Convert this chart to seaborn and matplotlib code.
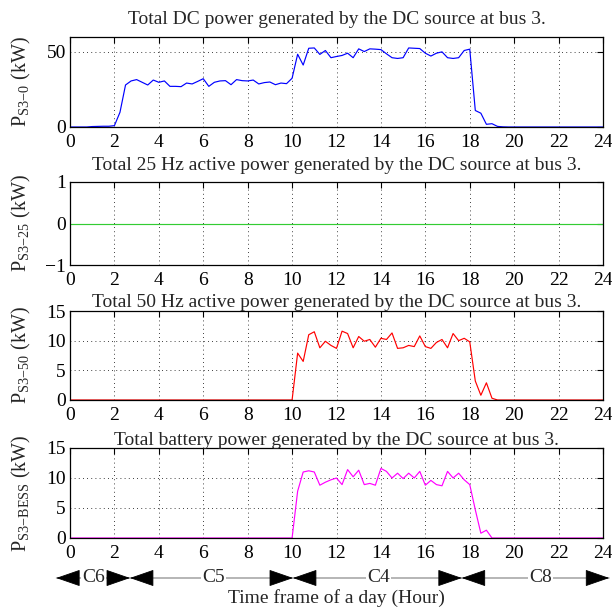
import numpy as np
import pandas as pd
import matplotlib
matplotlib.use("Agg")
import matplotlib.pyplot as plt
import seaborn as sns

# ---------------- data (15-minute resolution, hours 0..24) ----------------
hours = np.arange(0, 24.001, 0.25)

p_dc = ([0.0, 0.0, 0.0, 0.0, 0.3, 0.4, 0.5, 0.5] +
        [0.9, 9.8, 28.0, 30.7, 31.6, 29.8, 28.0, 31.3, 29.8, 30.7, 27.1, 27.1,
         26.9, 29.3, 28.7, 30.4, 32.2, 27.1, 29.8, 30.7, 30.9, 28.2, 31.6, 30.9,
         30.7, 31.3, 28.7, 29.6, 30.0, 28.2, 29.3, 28.9, 32.5, 48.5, 41.3, 52.5,
         52.7, 48.4, 51.0, 46.2, 47.0, 47.7, 49.2, 46.2, 52.1, 50.3, 52.1, 51.9,
         51.6, 48.8, 46.2, 45.7, 46.2, 52.7, 52.5, 52.3, 49.2, 47.3, 49.2, 50.1,
         46.2, 45.7, 46.2, 51.0, 51.9, 11.0, 9.2, 1.8, 2.2, 0.4, 0.1] +
        [0.0] * 18)

p_25 = [0.0] * 97

p_50 = ([0.0] * 41 +
        [7.9, 6.5, 11.0, 11.5, 8.8, 9.9, 9.2, 8.7, 11.6, 11.2, 8.8, 10.7,
         9.9, 10.2, 8.9, 10.4, 10.2, 11.3, 8.7, 8.8, 9.2, 9.0, 10.8, 9.0,
         8.7, 9.7, 10.2, 8.8, 11.2, 10.0, 10.4, 9.8, 3.2, 0.8, 2.9, 0.3, 0.0] +
        [0.0] * 19)

p_bess = ([0.0] * 41 +
          [7.8, 11.0, 11.2, 11.0, 8.8, 9.3, 9.7, 10.0, 8.9, 11.4, 10.2, 11.3,
           8.9, 9.1, 8.8, 11.6, 11.1, 10.0, 10.8, 9.9, 10.8, 10.0, 11.1, 8.8,
           9.6, 8.9, 8.7, 11.1, 10.0, 10.8, 9.7, 8.9, 4.7, 0.8, 1.3, 0.0] +
          [0.0] * 20)

titles = ["Total DC power generated by the DC source at bus 3.",
          "Total 25 Hz active power generated by the DC source at bus 3.",
          "Total 50 Hz active power generated by the DC source at bus 3.",
          "Total battery power generated by the DC source at bus 3."]
ylabels = [r"P$_{\mathrm{S3\!-\!0}}$ (kW)", r"P$_{\mathrm{S3\!-\!25}}$ (kW)",
           r"P$_{\mathrm{S3\!-\!50}}$ (kW)", r"P$_{\mathrm{S3\!-\!BESS}}$ (kW)"]
colors = ["#0000ff", "#33cc33", "#ff0000", "#ff00ff"]
ylims = [(0, 60), (-1, 1), (0, 15), (0, 15)]
yticks = [[0, 50], [-1, 0, 1], [0, 5, 10, 15], [0, 5, 10, 15]]
xticks = list(range(0, 25, 2))

# segments of the day: (start hour, end hour, label, label position)
seg_start = [-0.62, 2.7, 10.04, 17.64]
seg_end = [2.7, 10.04, 17.64, 24.28]
seg_label = ["C6", "C5", "C4", "C8"]
seg_label_x = [1.05, 6.45, 13.9, 21.2]
xlabel = "Time frame of a day (Hour)"

# ---------------- style ----------------
sns.set_style("white")
plt.rcParams["font.family"] = ["Liberation Serif", "DejaVu Serif"]
plt.rcParams["mathtext.fontset"] = "custom"
plt.rcParams["mathtext.rm"] = "Liberation Serif"
plt.rcParams["mathtext.it"] = "Liberation Serif:italic"
FS = 14

W, H = 612, 608
fig = plt.figure(figsize=(W / 100, H / 100), dpi=100)

# axes boxes in pixels: (top, bottom)
boxes = [(37, 127), (182, 265), (311, 400), (448, 538)]
left_px, right_px = 70, 603
series = [p_dc, p_25, p_50, p_bess]
title_pads = [9, 9, 3, 2]
axes = []
for i, (top, bot) in enumerate(boxes):
    ax = fig.add_axes([left_px / W, 1 - bot / H, (right_px - left_px) / W, (bot - top) / H])
    df = pd.DataFrame({"hour": hours, "p": series[i]})
    sns.lineplot(data=df, x="hour", y="p", ax=ax, color=colors[i], linewidth=0.85)
    ax.set_xlim(0, 24)
    ax.set_ylim(*ylims[i])
    ax.set_xticks(xticks)
    ax.set_yticks(yticks[i])
    ax.set_xticklabels([str(t) for t in xticks])
    ax.set_yticklabels(["\u2212" + str(abs(t)) if t < 0 else str(t) for t in yticks[i]])
    ax.tick_params(direction="in", top=True, right=True, length=4, width=0.8,
                   labelsize=FS, colors="black")
    ax.tick_params(axis="x", pad=5)
    ax.tick_params(axis="y", pad=3)
    ax.grid(True, linestyle=(0, (1, 4)), color="black", linewidth=0.6)
    for s in ax.spines.values():
        s.set_color("black")
        s.set_linewidth(0.9)
    ax.set_xlabel("")
    ax.set_ylabel(ylabels[i], fontsize=FS + 0.5)
    ax.yaxis.set_label_coords(-0.07, 0.5)
    ax.set_title(titles[i], fontsize=FS, pad=title_pads[i])
    axes.append(ax)

# ---------------- day-segment arrows below the last axes ----------------
ax4 = axes[-1]
arrow_y = 1 - 578 / H
XY = ("data", "figure fraction")
head = dict(arrowstyle="-|>,head_length=1.3,head_width=0.45", color="black",
            lw=0.6, mutation_scale=12, shrinkA=0, shrinkB=0)
for s, e, lab, lx in zip(seg_start, seg_end, seg_label, seg_label_x):
    # thin connecting line
    ax4.annotate("", xy=(e, arrow_y), xytext=(s, arrow_y), xycoords=XY, textcoords=XY,
                 annotation_clip=False, zorder=2,
                 arrowprops=dict(arrowstyle="-", color="#555555", lw=0.6,
                                 shrinkA=0, shrinkB=0))
    # label with white background covering the line
    ax4.annotate(lab, xy=(lx, arrow_y), xycoords=XY, ha="center", va="center",
                 fontsize=FS, annotation_clip=False, zorder=3,
                 bbox=dict(boxstyle="square,pad=0.05", fc="white", ec="none"))
    # arrow heads on top
    ax4.annotate("", xy=(s, arrow_y), xytext=(s + 0.75, arrow_y), xycoords=XY,
                 textcoords=XY, annotation_clip=False, zorder=4, arrowprops=head)
    ax4.annotate("", xy=(e, arrow_y), xytext=(e - 0.75, arrow_y), xycoords=XY,
                 textcoords=XY, annotation_clip=False, zorder=4, arrowprops=head)

fig.text((left_px + right_px) / 2 / W, 1 - 598 / H, xlabel, ha="center",
         va="center", fontsize=FS)

fig.savefig("out.png", dpi=100)
